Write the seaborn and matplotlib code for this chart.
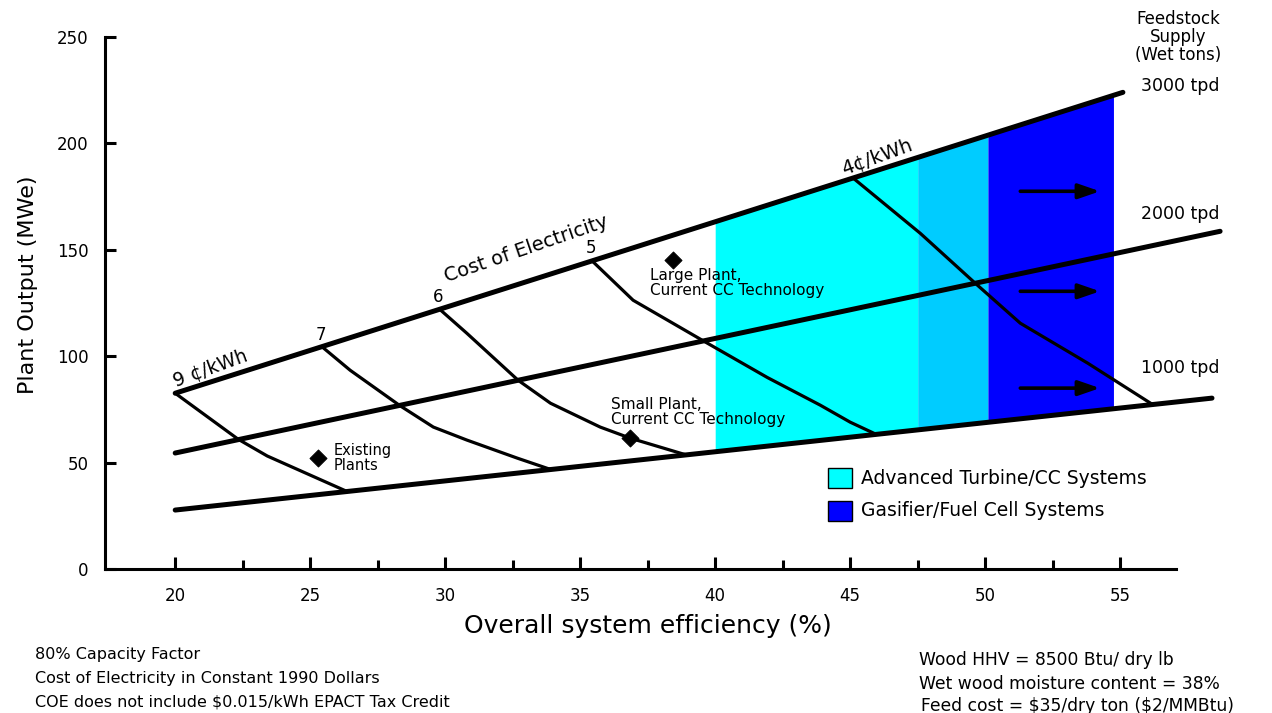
import matplotlib.pyplot as plt
import numpy as np
import pandas as pd
import seaborn as sns
from matplotlib.patches import Rectangle

# Feedstock supply lines (start / end points)
tpd_labels = ["1000 tpd", "2000 tpd", "3000 tpd"]
tpd_x0 = [20.0, 20.0, 20.0]
tpd_x1 = [58.4, 58.7, 55.1]
tpd_y0 = [27.7, 54.5, 82.6]
tpd_y1 = [80.3, 158.7, 224.0]

# Cost of electricity curves (cents/kWh)
coe_9_x = [20.0, 22.33, 23.41, 26.37]
coe_9_y = [82.6, 61.0, 53.1, 36.4]
coe_7_x = [25.44, 26.48, 28.33, 29.56, 30.8, 32.67, 33.9]
coe_7_y = [104.4, 93.4, 76.7, 66.7, 60.6, 52.1, 46.8]
coe_6_x = [29.8, 30.8, 32.7, 33.9, 35.74, 36.85, 38.93]
coe_6_y = [122.0, 110.8, 88.7, 77.9, 66.7, 61.5, 53.6]
coe_5_x = [35.44, 36.96, 39.52, 41.93, 43.89, 45.0, 45.96]
coe_5_y = [144.8, 126.3, 107.5, 90.0, 77.0, 69.0, 63.3]
coe_4_x = [45.1, 47.6, 49.63, 51.3, 53.8, 56.2]
coe_4_y = [183.8, 157.7, 134.3, 115.5, 96.7, 77.3]

# Technology regions (efficiency bounds)
region_x = [40.0, 47.5, 50.1, 54.75]
region_colors = ["#00FFFF", "#00CCFF", "#0000FF"]

# Plant markers
plant_names = ["Existing Plants", "Small Plant", "Large Plant"]
plant_x = [25.3, 36.85, 38.44]
plant_y = [52.1, 61.5, 145.0]

# Arrows (y levels) in the gasifier region
arrow_y = [177.5, 130.5, 85.0]

sns.set_style("white")
plt.rcParams["font.family"] = ["DejaVu Sans"]
plt.rcParams["text.color"] = "black"
plt.rcParams["axes.edgecolor"] = "black"
plt.rcParams["xtick.color"] = "black"
plt.rcParams["ytick.color"] = "black"
plt.rcParams["axes.labelcolor"] = "black"

W, H = 1272, 713
fig = plt.figure(figsize=(W / 100, H / 100), dpi=100)
ax = fig.add_axes([105 / W, 144 / H, 1130 / W, 532 / H])
ax.set_xlim(17.4, 17.4 + 1130 / 27)
ax.set_ylim(0, 250)


def line_y(i, x):
    return np.interp(x, [tpd_x0[i], tpd_x1[i]], [tpd_y0[i], tpd_y1[i]])


# shaded technology regions between 1000 and 3000 tpd lines
for k, col in enumerate(region_colors):
    xs = np.array([region_x[k], region_x[k + 1]])
    ax.fill_between(xs, line_y(0, xs), line_y(2, xs), color=col, lw=0, zorder=1)

# feedstock lines
for i in range(3):
    d = pd.DataFrame({"x": [tpd_x0[i], tpd_x1[i]], "y": [tpd_y0[i], tpd_y1[i]]})
    sns.lineplot(data=d, x="x", y="y", ax=ax, color="black", lw=3.6, zorder=4)

# cost curves
for cx, cy in [(coe_9_x, coe_9_y), (coe_7_x, coe_7_y), (coe_6_x, coe_6_y),
               (coe_5_x, coe_5_y), (coe_4_x, coe_4_y)]:
    d = pd.DataFrame({"x": cx, "y": cy})
    sns.lineplot(data=d, x="x", y="y", ax=ax, color="black", lw=2.3,
                 sort=False, estimator=None, zorder=3)

# plant markers
sns.scatterplot(x=plant_x, y=plant_y, ax=ax, marker="D", s=75, color="black",
                edgecolor="black", zorder=5)

# arrows
for ay in arrow_y:
    ax.annotate("", xy=(54.25, ay), xytext=(51.3, ay),
                arrowprops=dict(arrowstyle="-|>,head_length=1.3,head_width=0.45",
                                color="black", lw=2.6, shrinkA=0, shrinkB=0),
                zorder=6)

# curve labels
ax.text(19.85, 83.5, "9 ¢/kWh", fontsize=13.5, rotation=20, ha="left", va="bottom")
ax.text(25.4, 105.5, "7", fontsize=12, ha="center", va="bottom")
ax.text(29.75, 123.5, "6", fontsize=12, ha="center", va="bottom")
ax.text(35.4, 146.5, "5", fontsize=12, ha="center", va="bottom")
ax.text(44.6, 183.5, "4¢/kWh", fontsize=14, rotation=20, ha="left", va="bottom")
ax.text(33.0, 150.5, "Cost of Electricity", fontsize=14, rotation=19,
        ha="center", va="center")

# plant labels
ax.text(25.85, 52.0, "Existing\nPlants", fontsize=10.5, ha="left", va="center",
        linespacing=1.0)
ax.text(37.6, 141.5, "Large Plant,\nCurrent CC Technology", fontsize=11,
        ha="left", va="top", linespacing=1.0)
ax.text(36.15, 81.0, "Small Plant,\nCurrent CC Technology", fontsize=11,
        ha="left", va="top", linespacing=1.0)

# axes styling
sns.despine(ax=ax)
ax.spines["left"].set_linewidth(2.2)
ax.spines["bottom"].set_linewidth(2.2)
ax.spines["bottom"].set_bounds(17.4, 57.05)
ax.spines["left"].set_bounds(0, 250)
ax.set_xticks([20, 25, 30, 35, 40, 45, 50, 55])
ax.set_xticks([22.5, 27.5, 32.5, 37.5, 42.5, 47.5, 52.5], minor=True)
ax.set_yticks([0, 50, 100, 150, 200, 250])
ax.tick_params(axis="x", which="major", direction="in", length=9, width=2.2,
               labelsize=12, pad=13, bottom=True)
ax.tick_params(axis="x", which="minor", direction="in", length=6.5, width=2.2,
               bottom=True)
ax.tick_params(axis="y", direction="in", length=8, width=2.2, labelsize=12,
               pad=12, left=True)
ax.set_xlabel("")
ax.set_ylabel("")

fig.text(28 / W, 1 - 285 / H, "Plant Output (MWe)", rotation=90, fontsize=16,
         ha="center", va="center")
fig.text(648 / W, 1 - 626 / H, "Overall system efficiency (%)", fontsize=18,
         ha="center", va="center")

# right side labels
fig.text(1178 / W, 1 - 10 / H, "Feedstock\nSupply\n(Wet tons)", fontsize=12,
         ha="center", va="top", linespacing=1.0)
for lab, py in zip(tpd_labels, [368, 214, 86]):
    fig.text(1180 / W, 1 - py / H, lab, fontsize=12.5, ha="center", va="center")

# legend
for lab, col, py in [("Advanced Turbine/CC Systems", "#00FFFF", 478),
                     ("Gasifier/Fuel Cell Systems", "#0000FF", 511)]:
    fig.add_artist(Rectangle((828 / W, 1 - (py + 10) / H), 24 / W, 20 / H,
                             facecolor=col, edgecolor="black", lw=1,
                             transform=fig.transFigure))
    fig.text(861 / W, 1 - py / H, lab, fontsize=13.5, ha="left", va="center")

# notes
for txt, py in [("80% Capacity Factor", 655),
                ("Cost of Electricity in Constant 1990 Dollars", 678),
                (r"COE does not include \$0.015/kWh EPACT Tax Credit", 702)]:
    fig.text(35 / W, 1 - py / H, txt, fontsize=11.5, ha="left", va="center")
for txt, px, py in [("Wood HHV = 8500 Btu/ dry lb", 919, 660),
                    ("Wet wood moisture content = 38%", 919, 684),
                    (r"Feed cost = \$35/dry ton (\$2/MMBtu)", 921, 706)]:
    fig.text(px / W, 1 - py / H, txt, fontsize=12.3, ha="left", va="center")

fig.savefig("out.png", dpi=100)
